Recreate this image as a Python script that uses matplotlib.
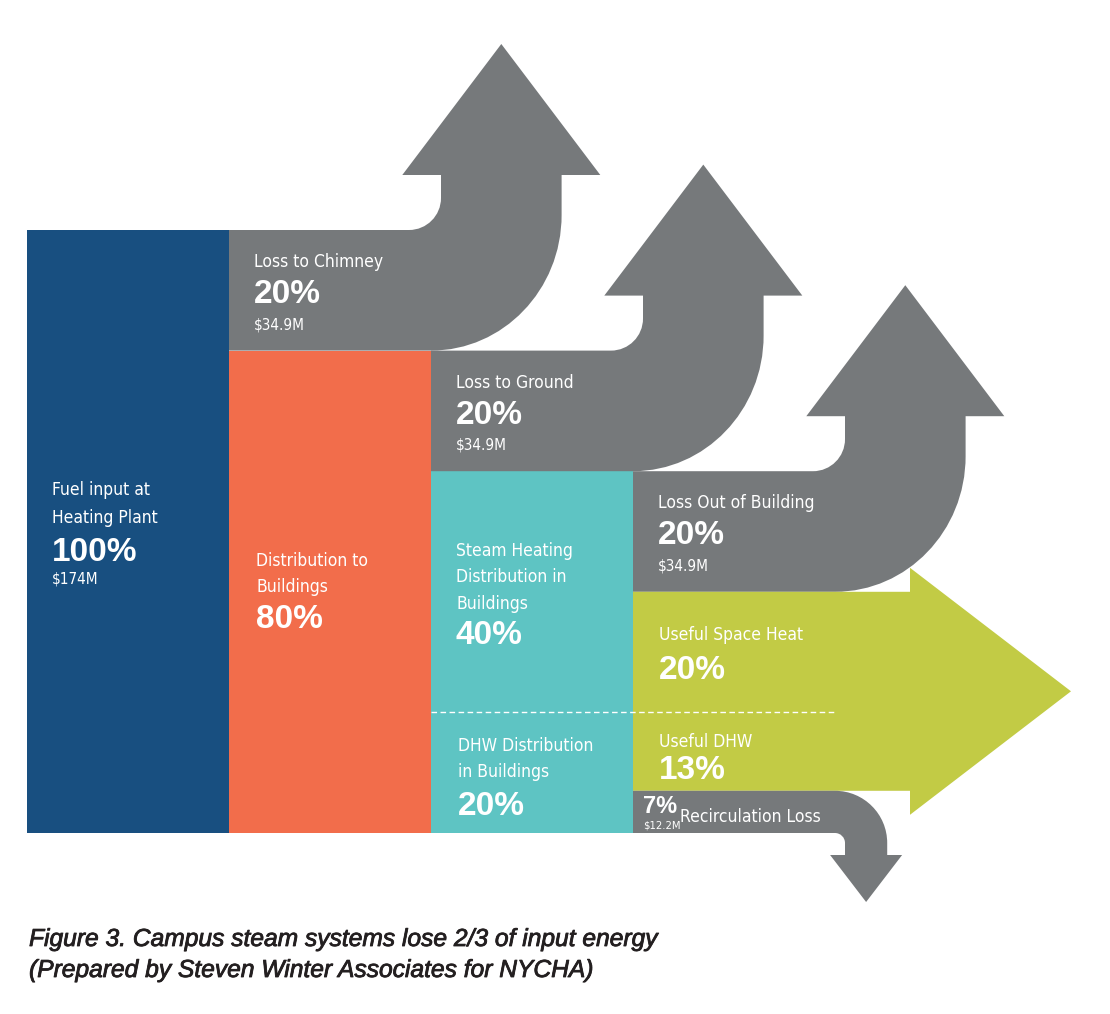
import matplotlib
matplotlib.use("Agg")
import matplotlib.pyplot as plt
from matplotlib.path import Path
from matplotlib.patches import PathPatch, Rectangle
import matplotlib.font_manager as fm
import matplotlib.patheffects as pe

# ---------------- data ----------------
fuel_label = ["Fuel input at", "Heating Plant"]
fuel_pct = 100
fuel_cost = "$174M"

dist_label = ["Distribution to", "Buildings"]
dist_pct = 80

steam_label = ["Steam Heating", "Distribution in", "Buildings"]
steam_pct = 40

dhw_label = ["DHW Distribution", "in Buildings"]
dhw_pct = 20

loss_labels = ["Loss to Chimney", "Loss to Ground", "Loss Out of Building"]
loss_pcts = [20, 20, 20]
loss_costs = ["$34.9M", "$34.9M", "$34.9M"]

useful_labels = ["Useful Space Heat", "Useful DHW"]
useful_pcts = [20, 13]

recirc_label = "Recirculation Loss"
recirc_pct = 7
recirc_cost = "$12.2M"

caption = ["Figure 3. Campus steam systems lose 2/3 of input energy",
           "(Prepared by Steven Winter Associates for NYCHA)"]

# ---------------- style ----------------
C_NAVY = "#184F80"
C_ORANGE = "#F26D4B"
C_TEAL = "#5EC4C3"
C_GREY = "#76797B"
C_GREEN = "#C2CB45"
C_TEXT = "#231F20"

avail = {f.name for f in fm.fontManager.ttflist}
if "Liberation Sans Narrow" in avail:
    NARROW = dict(family="Liberation Sans Narrow")
    LSZ = 15
else:
    NARROW = dict(family="DejaVu Sans", stretch="condensed")
    LSZ = 12.5
BOLD = dict(family="Liberation Sans", weight="bold")

W, H = 1110, 1014
fig = plt.figure(figsize=(W / 100, H / 100), dpi=100)
ax = fig.add_axes([0, 0, 1, 1])
ax.set_xlim(0, W)
ax.set_ylim(H, 0)
ax.axis("off")

# layout (pixel scale)
Y_TOP = 230.0
PX = 6.03          # pixels per percent
X0 = 27.0
COLW = 202.0
K = 0.5523


def ypos(pct_from_top):
    return Y_TOP + pct_from_top * PX


# ---------------- stage columns ----------------
ax.add_patch(Rectangle((X0, ypos(0)), COLW, fuel_pct * PX, fc=C_NAVY, ec="none"))
ax.add_patch(Rectangle((X0 + COLW, ypos(fuel_pct - dist_pct)), COLW, dist_pct * PX,
                       fc=C_ORANGE, ec="none"))
teal_top = fuel_pct - steam_pct - dhw_pct
ax.add_patch(Rectangle((X0 + 2 * COLW, ypos(teal_top)), COLW, (steam_pct + dhw_pct) * PX,
                       fc=C_TEAL, ec="none"))


# ---------------- up arrows (losses) ----------------
def up_arrow(L, T, w):
    B = T + w
    SL = L + 212
    SR = SL + w
    r = 32
    HB = T - 55
    HH = 131
    HW = 99
    cx = (SL + SR) / 2
    ry_top = T - 15
    ex = L + COLW
    rx = SR - ex
    ry = B - ry_top
    verts = [(L, T), (SL - r, T),
             (SL - r + K * r, T), (SL, T - r + K * r), (SL, T - r),
             (SL, HB), (cx - HW, HB), (cx, HB - HH), (cx + HW, HB), (SR, HB),
             (SR, ry_top),
             (SR, ry_top + K * ry), (ex + K * rx, B), (ex, B),
             (L, B), (L, T)]
    codes = [Path.MOVETO, Path.LINETO,
             Path.CURVE4, Path.CURVE4, Path.CURVE4,
             Path.LINETO, Path.LINETO, Path.LINETO, Path.LINETO, Path.LINETO,
             Path.LINETO,
             Path.CURVE4, Path.CURVE4, Path.CURVE4,
             Path.LINETO, Path.CLOSEPOLY]
    ax.add_patch(PathPatch(Path(verts, codes), fc=C_GREY, ec="none"))


cum = 0
for i, p in enumerate(loss_pcts):
    L = X0 + COLW * (i + 1)
    T = ypos(cum)
    up_arrow(L, T, p * PX)
    ax.text(L + 25, T + 37, loss_labels[i], color="white", fontsize=LSZ, **NARROW)
    ax.text(L + 25, T + 73, f"{p}%", color="white", fontsize=24, **BOLD)
    ax.text(L + 25, T + 99, loss_costs[i], color="white", fontsize=11, **NARROW)
    cum += p

# ---------------- useful (green) arrow ----------------
gL = X0 + 3 * COLW
gT = ypos(cum)
gB = ypos(cum + sum(useful_pcts))
hx = gL + 277
over = 24
HL = 161
gmid = (gT + gB) / 2
gverts = [(gL, gT), (hx, gT), (hx, gT - over), (hx + HL, gmid), (hx, gB + over),
          (hx, gB), (gL, gB), (gL, gT)]
gcodes = [Path.MOVETO] + [Path.LINETO] * 6 + [Path.CLOSEPOLY]
ax.add_patch(PathPatch(Path(gverts, gcodes), fc=C_GREEN, ec="none"))

# ---------------- recirculation (down) arrow ----------------
rT = gB
w = recirc_pct * PX
rB = rT + w
SL = gL + 212
SR = SL + w
r = 10
R = r + w
cxr = SL - r
HB = rB + 22
HW = 36
HLd = 47
cx = (SL + SR) / 2
rverts = [(gL, rT), (cxr, rT),
          (cxr + K * R, rT), (SR, rB + r - K * R), (SR, rB + r),
          (SR, HB), (cx + HW, HB), (cx, HB + HLd), (cx - HW, HB), (SL, HB),
          (SL, rB + r),
          (SL, rB + r - K * r), (cxr + K * r, rB), (cxr, rB),
          (gL, rB), (gL, rT)]
rcodes = [Path.MOVETO, Path.LINETO,
          Path.CURVE4, Path.CURVE4, Path.CURVE4,
          Path.LINETO, Path.LINETO, Path.LINETO, Path.LINETO, Path.LINETO,
          Path.LINETO,
          Path.CURVE4, Path.CURVE4, Path.CURVE4,
          Path.LINETO, Path.CLOSEPOLY]
ax.add_patch(PathPatch(Path(rverts, rcodes), fc=C_GREY, ec="none"))

# dashed divider between space heat and DHW
ydash = ypos(fuel_pct - dhw_pct)
ax.plot([X0 + 2 * COLW, SL - 10], [ydash, ydash], color="white", lw=1.0,
        dashes=(4, 2.5), solid_capstyle="butt")

# ---------------- stage texts ----------------
fx = X0 + 25
for j, s in enumerate(fuel_label):
    ax.text(fx, 495 + 28 * j, s, color="white", fontsize=LSZ, **NARROW)
ax.text(fx, 561, f"{fuel_pct}%", color="white", fontsize=24, **BOLD)
ax.text(fx, 584, fuel_cost, color="white", fontsize=11, **NARROW)

dx = X0 + COLW + 27
for j, s in enumerate(dist_label):
    ax.text(dx, 566 + 26 * j, s, color="white", fontsize=LSZ, **NARROW)
ax.text(dx, 628, f"{dist_pct}%", color="white", fontsize=24, **BOLD)

sx = X0 + 2 * COLW + 25
for j, s in enumerate(steam_label):
    ax.text(sx, 556 + 26.5 * j, s, color="white", fontsize=LSZ, **NARROW)
ax.text(sx, 644, f"{steam_pct}%", color="white", fontsize=24, **BOLD)

for j, s in enumerate(dhw_label):
    ax.text(sx + 2, 751 + 26 * j, s, color="white", fontsize=LSZ, **NARROW)
ax.text(sx + 2, 815, f"{dhw_pct}%", color="white", fontsize=24, **BOLD)

ux = gL + 26
ax.text(ux, 640, useful_labels[0], color="white", fontsize=LSZ, **NARROW)
ax.text(ux, 679, f"{useful_pcts[0]}%", color="white", fontsize=24, **BOLD)
ax.text(ux, 747, useful_labels[1], color="white", fontsize=LSZ, **NARROW)
ax.text(ux, 779, f"{useful_pcts[1]}%", color="white", fontsize=24, **BOLD)

ax.text(gL + 10, 813, f"{recirc_pct}%", color="white", fontsize=17, **BOLD)
ax.text(gL + 10, 829, recirc_cost, color="white", fontsize=8, **NARROW)
ax.text(gL + 47, 822, recirc_label, color="white", fontsize=LSZ, **NARROW)

# ---------------- caption ----------------
for j, s in enumerate(caption):
    ax.text(29, 946 + 31 * j, s, color=C_TEXT, fontsize=17.7,
            family="Liberation Sans", style="italic",
            path_effects=[pe.withStroke(linewidth=0.6, foreground=C_TEXT)])

fig.savefig("out.png", dpi=100)
